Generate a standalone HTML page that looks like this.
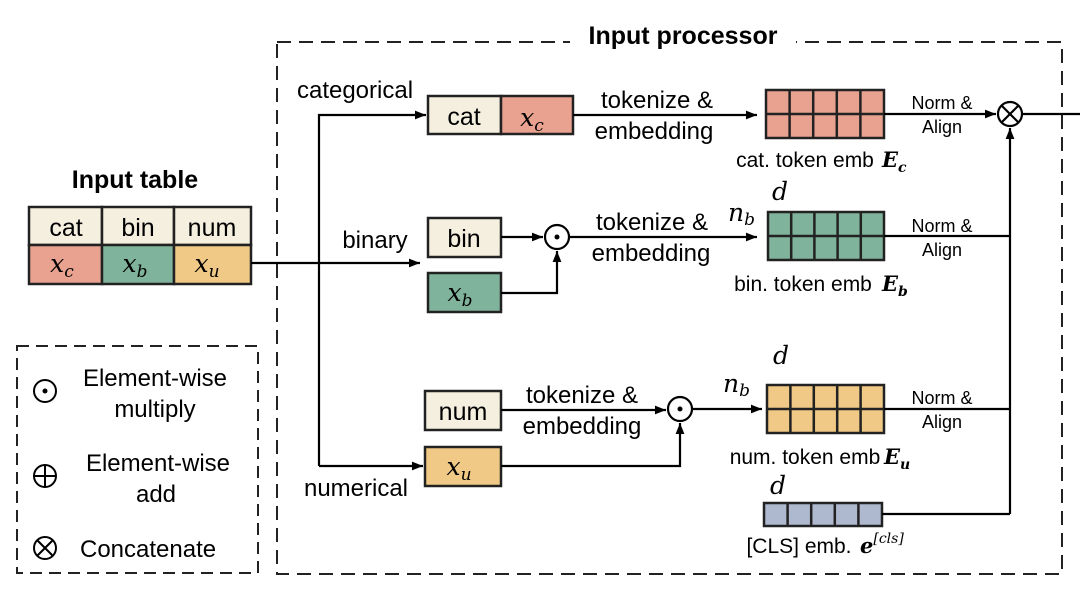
<!DOCTYPE html>
<html><head><meta charset="utf-8"><style>
html,body{margin:0;padding:0;background:#fff;}
svg{display:block;font-family:"Liberation Sans",sans-serif;}
.m{font-family:"DejaVu Serif","Liberation Serif",serif;font-style:italic;}
</style></head><body>
<svg width="1080" height="607" viewBox="0 0 1080 607" xmlns="http://www.w3.org/2000/svg">
<defs>
<marker id="a" viewBox="0 0 10 10" refX="10" refY="5" markerWidth="11" markerHeight="11" markerUnits="userSpaceOnUse" orient="auto"><path d="M0,1 L10,5 L0,9 z" fill="#000"/></marker>
</defs>
<!-- dashed boxes -->
<rect x="277" y="42" width="785" height="532" fill="none" stroke="#222" stroke-width="2" stroke-dasharray="14,8"/>
<rect x="570" y="22" width="226" height="32" fill="#fff"/>
<text x="683" y="44" font-size="25" font-weight="bold" text-anchor="middle">Input processor</text>
<rect x="17" y="346" width="241" height="227" fill="none" stroke="#222" stroke-width="2" stroke-dasharray="12,7"/>

<!-- Input table -->
<text x="135" y="188" font-size="25" font-weight="bold" text-anchor="middle">Input table</text>
<g stroke="#222" stroke-width="2.5">
<rect x="29" y="207" width="73" height="38" fill="#f5efdf"/>
<rect x="102" y="207" width="72" height="38" fill="#f5efdf"/>
<rect x="174" y="207" width="77" height="38" fill="#f5efdf"/>
<rect x="29" y="245" width="73" height="39" fill="#e8a28f"/>
<rect x="102" y="245" width="72" height="39" fill="#7fb39b"/>
<rect x="174" y="245" width="77" height="39" fill="#efc985"/>
</g>
<g font-size="25" text-anchor="middle">
<text x="66" y="236">cat</text><text x="138" y="236">bin</text><text x="212" y="236">num</text>
</g>
<g font-size="25" class="m" text-anchor="middle">
<text x="62" y="272">x<tspan font-size="17" dy="5">c</tspan></text>
<text x="135" y="272">x<tspan font-size="17" dy="5">b</tspan></text>
<text x="207" y="272">x<tspan font-size="17" dy="5">u</tspan></text>
</g>

<!-- routing lines -->
<g stroke="#000" stroke-width="2.2" fill="none">
<line x1="251" y1="263" x2="420" y2="263" marker-end="url(#a)"/>
<polyline points="319,466 319,115 426,115" marker-end="url(#a)"/>
<line x1="319" y1="466" x2="423" y2="466" marker-end="url(#a)"/>
</g>
<g font-size="24">
<text x="355" y="98" text-anchor="middle">categorical</text>
<text x="375" y="248" text-anchor="middle">binary</text>
<text x="356" y="496" text-anchor="middle">numerical</text>
</g>

<!-- cat row -->
<g stroke="#222" stroke-width="2.5">
<rect x="428" y="96" width="73" height="38" fill="#f5efdf"/>
<rect x="501" y="96" width="72" height="38" fill="#e8a28f"/>
</g>
<text x="464" y="125" font-size="25" text-anchor="middle">cat</text>
<text x="532" y="126" font-size="25" class="m" text-anchor="middle">x<tspan font-size="17" dy="5">c</tspan></text>
<line x1="573" y1="115" x2="757" y2="115" stroke="#000" stroke-width="2.2" marker-end="url(#a)"/>
<g font-size="24" text-anchor="middle">
<text x="657" y="108">tokenize &amp;</text><text x="654" y="139">embedding</text>
</g>

<!-- bin row -->
<g stroke="#222" stroke-width="2.5">
<rect x="428" y="218" width="73" height="39" fill="#f5efdf"/>
<rect x="428" y="273" width="73" height="39" fill="#7fb39b"/>
</g>
<text x="464" y="247" font-size="25" text-anchor="middle">bin</text>
<text x="460" y="301" font-size="25" class="m" text-anchor="middle">x<tspan font-size="17" dy="5">b</tspan></text>
<g stroke="#000" stroke-width="2.2" fill="none">
<line x1="501" y1="237" x2="543" y2="237" marker-end="url(#a)"/>
<polyline points="501,293 557,293 557,251" marker-end="url(#a)"/>
<circle cx="557" cy="237" r="12" fill="#fff"/>
<line x1="569" y1="237" x2="757" y2="237" marker-end="url(#a)"/>
</g>
<circle cx="557" cy="237" r="2.5"/>
<g font-size="24" text-anchor="middle">
<text x="652" y="230">tokenize &amp;</text><text x="651" y="261">embedding</text>
</g>

<!-- num row -->
<g stroke="#222" stroke-width="2.5">
<rect x="425" y="391" width="76" height="39" fill="#f5efdf"/>
<rect x="425" y="447" width="76" height="39" fill="#efc985"/>
</g>
<text x="463" y="420" font-size="25" text-anchor="middle">num</text>
<text x="459" y="475" font-size="25" class="m" text-anchor="middle">x<tspan font-size="17" dy="5">u</tspan></text>
<g stroke="#000" stroke-width="2.2" fill="none">
<line x1="501" y1="410" x2="666" y2="410" marker-end="url(#a)"/>
<polyline points="501,466 680,466 680,423" marker-end="url(#a)"/>
<circle cx="680" cy="409" r="12" fill="#fff"/>
<line x1="692" y1="409" x2="762" y2="409" marker-end="url(#a)"/>
</g>
<circle cx="680" cy="409" r="2.5"/>
<g font-size="24" text-anchor="middle">
<text x="582" y="403">tokenize &amp;</text><text x="582" y="434">embedding</text>
</g>

<!-- embedding grids -->
<g stroke="#222" stroke-width="2.5">
<rect x="766" y="90" width="118" height="48" fill="#e8a28f"/>
<path d="M789.6,90V138M813.2,90V138M836.8,90V138M860.4,90V138M766,114H884" fill="none"/>
<rect x="768" y="212" width="116" height="48" fill="#7fb39b"/>
<path d="M791.2,212V260M814.4,212V260M837.6,212V260M860.8,212V260M768,236H884" fill="none"/>
<rect x="767" y="385" width="117" height="48" fill="#efc985"/>
<path d="M790.4,385V433M813.8,385V433M837.2,385V433M860.6,385V433M767,409H884" fill="none"/>
<rect x="764" y="503" width="118" height="23" fill="#aeb8ce"/>
<path d="M787.6,503V526M811.2,503V526M834.8,503V526M858.4,503V526" fill="none"/>
</g>
<g font-size="21" text-anchor="middle">
<text x="805" y="167">cat. token emb</text>
<text x="803" y="291">bin. token emb</text>
<text x="805" y="464">num. token emb</text>
<text x="799" y="553">[CLS] emb.</text>
</g>
<g class="m" font-weight="bold" font-size="21">
<text x="882" y="167">E<tspan font-size="14" dy="5">c</tspan></text>
<text x="882" y="291">E<tspan font-size="14" dy="5">b</tspan></text>
<text x="884" y="464">E<tspan font-size="14" dy="5">u</tspan></text>
<text x="860" y="553">e<tspan font-size="14" dy="-10" font-weight="normal">[cls]</tspan></text>
</g>
<g class="m" font-size="25">
<text x="772" y="200">d</text>
<text x="773" y="364">d</text>
<text x="770" y="494">d</text>
<text x="728" y="221">n<tspan font-size="17" dy="4">b</tspan></text>
<text x="723" y="392">n<tspan font-size="17" dy="4">b</tspan></text>
</g>

<!-- norm & align -->
<g stroke="#000" stroke-width="2.2" fill="none">
<line x1="884" y1="114" x2="996" y2="114" marker-end="url(#a)"/>
<line x1="884" y1="236" x2="1010" y2="236"/>
<line x1="884" y1="409" x2="1010" y2="409"/>
<line x1="882" y1="514" x2="1010" y2="514"/>
<line x1="1010" y1="514" x2="1010" y2="128" marker-end="url(#a)"/>
<circle cx="1010" cy="114" r="12" fill="#fff"/>
<line x1="1001.5" y1="105.5" x2="1018.5" y2="122.5"/><line x1="1018.5" y1="105.5" x2="1001.5" y2="122.5"/>
<line x1="1022" y1="114" x2="1080" y2="114"/>
</g>
<g font-size="18" text-anchor="middle">
<text x="942" y="109">Norm &amp;</text><text x="942" y="133">Align</text>
<text x="942" y="232">Norm &amp;</text><text x="942" y="256">Align</text>
<text x="942" y="404">Norm &amp;</text><text x="942" y="428">Align</text>
</g>

<!-- legend -->
<g stroke="#000" stroke-width="2" fill="none">
<circle cx="45" cy="391" r="11"/>
<circle cx="45" cy="476" r="11"/><line x1="34" y1="476" x2="56" y2="476"/><line x1="45" y1="465" x2="45" y2="487"/>
<circle cx="45" cy="548" r="11"/><line x1="37" y1="540" x2="53" y2="556"/><line x1="53" y1="540" x2="37" y2="556"/>
</g>
<circle cx="45" cy="391" r="2.5"/>
<g font-size="24" text-anchor="middle">
<text x="155" y="386">Element-wise</text><text x="155" y="417">multiply</text>
<text x="158" y="471">Element-wise</text><text x="156" y="502">add</text>
</g>
<text x="80" y="557" font-size="24">Concatenate</text>
</svg>
</body></html>
